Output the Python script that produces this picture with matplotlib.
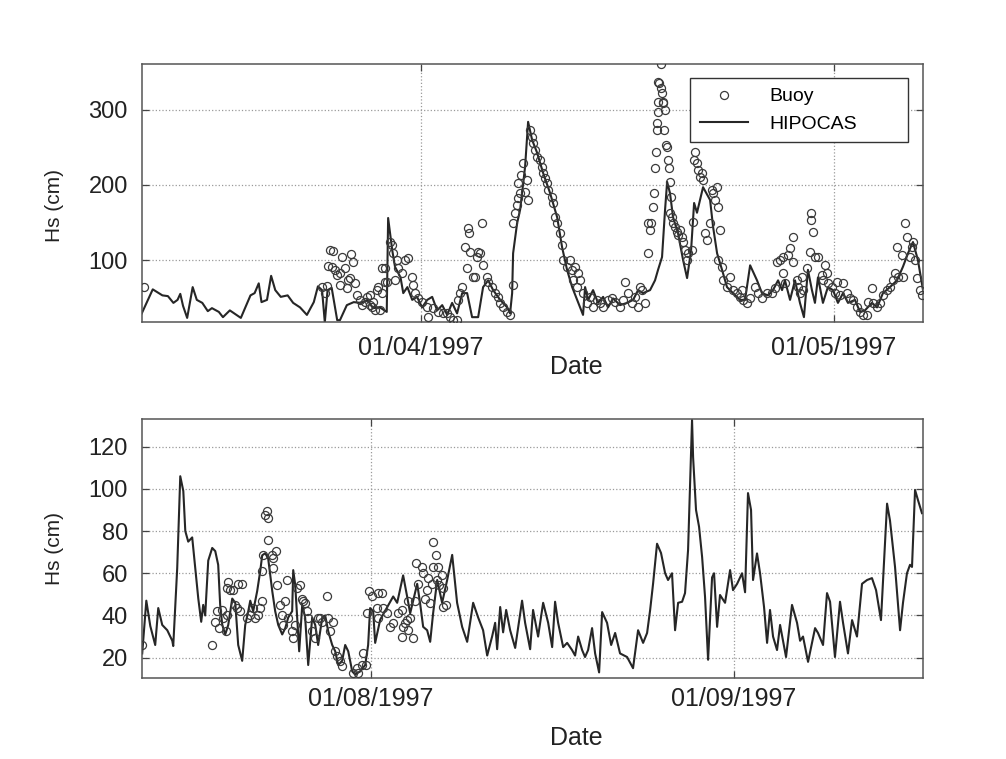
import numpy as np
import matplotlib
matplotlib.use("Agg")
import matplotlib.pyplot as plt
import matplotlib.dates as mdates
from datetime import datetime

# ---------------- data (days relative to the 1st of the reference month) ----------------
# Top panel: reference 01/04/1997
top_model_t = [-20.3, -19.5, -18.8, -18.4, -18.0, -17.7, -17.5, -17.3, -17.0, -16.6, -16.3, -15.9,
               -15.5, -15.2, -14.7, -14.4, -13.9, -13.1, -12.4, -12.1, -11.8, -11.6, -11.2, -10.9,
               -10.6, -10.2, -9.7, -9.3, -8.8, -8.3, -7.8, -7.5, -7.2, -7.0, -6.8, -6.5, -6.1, -5.9,
               -5.4, -4.9, -4.4, -3.9, -3.5, -3.0, -2.5, -2.4, -2.1, -1.9, -1.5, -1.3, -1.0, -0.65,
               -0.3, 0.07, 0.44, 0.8, 1.16, 1.53, 1.89, 2.25, 2.61, 2.98, 3.34, 3.70, 4.14, 4.50,
               4.87, 5.23, 5.74, 6.25, 6.46, 6.61, 6.68, 6.97, 7.19, 7.55, 7.77, 8.06, 8.42, 8.86,
               9.37, 9.88, 10.24, 10.60, 10.97, 11.33, 11.76, 11.91, 12.13, 12.49, 12.85, 13.22,
               13.58, 13.94, 14.45, 14.96, 15.40, 15.76, 16.12, 16.63, 16.99, 17.21, 17.50, 17.72,
               17.87, 18.08, 18.30, 18.66, 19.03, 19.32, 19.61, 19.83, 20.04, 20.26, 20.48, 20.99,
               21.21, 21.50, 21.86, 22.22, 22.66, 23.17, 23.53, 23.90, 24.40, 24.76, 25.20, 25.56,
               25.93, 26.22, 26.43, 26.80, 27.16, 27.52, 27.81, 28.10, 28.39, 28.61, 28.83, 29.19,
               29.55, 29.92, 30.28, 30.65, 31.01, 31.52, 31.88, 32.24, 32.75, 33.12, 33.55, 34.06,
               34.57, 35.00, 35.37, 35.73, 36.09, 36.46]
top_model_hs = [29, 61, 53, 52, 43, 47, 55, 39, 23, 64, 47, 43,
                32, 36, 31, 24, 33, 23, 53, 56, 69, 44, 47, 79,
                60, 51, 53, 43, 37, 27, 44, 65, 60, 17, 60, 63, 20, 20,
                40, 44, 43, 47, 36, 37, 31, 156, 113, 91, 77, 56, 64, 47,
                51, 37, 47, 51, 33, 40, 27, 43, 29, 56, 56, 24, 24, 64,
                73, 60, 47, 37, 29, 56, 109, 149, 167, 224, 284, 260, 243, 216,
                189, 157, 117, 87, 64, 47, 27, 64, 47, 60, 43, 51,
                37, 49, 40, 43, 47, 60, 56, 60, 73, 87, 104, 167,
                204, 189, 157, 136, 100, 76, 113, 176, 163, 180, 197, 180,
                144, 109, 87, 64, 56, 47, 47, 93, 73, 56, 53, 60,
                73, 60, 73, 47, 73, 43, 24, 87, 60, 43, 77, 43,
                64, 60, 43, 56, 43, 47, 31, 33, 43, 37, 56, 64,
                73, 91, 109, 124, 100, 60]

top_buoy_t = [-20.12, -7.19, -6.97, -6.83, -6.61, -6.39, -6.75, -6.46, -6.25, -6.10, -5.88, -5.74,
              -5.52, -5.30, -5.16, -5.08, -4.94, -5.90, -5.37, -4.79, -4.65, -4.43, -4.28, -4.07,
              -3.92, -3.70, -3.56, -3.49, -3.20, -3.12, -2.83, -2.61, -2.98, -3.34, -3.72, -2.47,
              -2.25, -2.11, -2.03, -1.74, -1.67, -1.38, -1.16, -0.94, -0.65, -0.58, -0.44, -2.63,
              -2.85, -1.89, -0.22, 0.07, 0.44, 0.51, 0.87, 1.23, 1.60, 1.89, 2.11, 2.32, 2.61, 2.69,
              2.83, 2.98, 3.20, 3.41, 3.49, 3.34, 3.56, 3.78, 3.92, 4.07, 4.14, 4.28, 4.43, 4.50,
              4.79, 4.87, 5.16, 5.37, 5.59, 5.74, 5.95, 6.25, 6.46, 6.68, 6.70, 6.83, 6.97, 7.04,
              7.19, 7.00, 7.22, 7.41, 7.70, 7.55, 7.77, 7.92, 8.06, 8.13, 8.28, 8.42, 8.64, 8.79,
              8.86, 9.00, 9.15, 9.22, 9.51, 9.59, 9.73, 9.88, 10.09, 10.24, 10.31, 10.60, 10.82,
              10.97, 11.04, 11.33, 11.18, 11.40, 11.55, 11.76, 12.06, 12.27, 12.49, 12.78, 13.00,
              13.22, 13.58, 13.87, 14.09, 14.45, 14.67, 14.81, 15.03, 15.32, 15.54, 15.76, 15.90,
              16.05, 16.27, 16.48, 16.63, 16.45, 16.70, 16.85, 16.92, 16.99, 17.07, 17.14, 17.17,
              17.21, 17.24, 17.20, 17.28, 17.43, 17.50, 17.57, 17.60, 17.72, 17.65, 17.43, 17.79,
              17.87, 17.94, 18.01, 18.08, 18.16, 18.10, 18.23, 18.30, 18.45, 18.59, 18.66, 18.81,
              18.95, 19.03, 19.17, 19.32, 19.39, 19.68, 19.75, 19.90, 19.80, 20.04, 20.12, 20.26,
              20.41, 20.48, 20.63, 20.77, 20.99, 21.14, 21.21, 21.35, 21.50, 21.57, 21.71, 21.60,
              21.86, 21.93, 22.22, 22.44, 22.66, 22.95, 23.17, 23.39, 23.68, 23.31, 23.90, 24.26,
              24.47, 24.76, 25.13, 25.49, 25.71, 25.85, 26.07, 26.29, 26.30, 26.43, 26.65, 26.80,
              27.02, 27.00, 27.31, 27.38, 27.52, 27.67, 27.74, 28.03, 28.32, 28.35, 28.47, 28.25,
              28.61, 28.83, 29.12, 29.34, 29.19, 29.48, 29.55, 29.85, 30.06, 30.21, 30.43, 30.65,
              30.94, 31.15, 31.37, 31.66, 31.88, 32.10, 32.39, 32.46, 32.75, 32.82, 33.12, 33.33,
              33.55, 33.84, 34.06, 34.28, 34.42, 34.64, 35.00, 34.60, 34.93, 35.15, 35.29, 35.51,
              35.66, 35.73, 35.88, 36.02, 36.24, 36.38]
top_buoy_hs = [64, 64, 56, 65, 113, 112, 92, 91, 87, 80, 83, 104,
               89, 73, 76, 108, 97, 67, 63, 69, 53, 47, 40, 44,
               51, 53, 37, 44, 60, 64, 89, 89, 33, 33, 40, 71,
               124, 120, 109, 100, 89, 83, 100, 103, 77, 67, 56, 71,
               56, 73, 49, 44, 37, 24, 36, 31, 29, 29, 24, 20, 20, 47,
               56, 64, 117, 143, 136, 89, 111, 77, 77, 104, 111, 109, 149, 93,
               77, 71, 64, 56, 51, 43, 37, 31, 27, 67, 149, 163, 173, 183,
               189, 203, 213, 229, 207, 191, 180, 273, 264, 256, 247, 237, 233, 224,
               216, 209, 203, 193, 184, 176, 157, 149, 136, 120, 100, 91, 100,
               87, 73, 64, 91, 83, 73, 56, 43, 51, 37, 47, 43,
               37, 47, 49, 44, 37, 47, 71, 56, 43, 51, 37, 64,
               60, 43, 109, 140, 149, 149, 171, 189, 223, 244, 273, 283,
               297, 311, 337, 336, 329, 323, 311, 309, 300, 273, 361, 253,
               251, 233, 223, 204, 184, 163, 157, 149, 144, 137, 133, 140,
               131, 124, 113, 100, 109, 113, 151, 244, 233, 229, 220, 211,
               216, 207, 136, 127, 149, 193, 189, 180, 197, 171, 140, 100,
               91, 73, 64, 77, 60, 56, 51, 47, 43, 60, 49, 64,
               56, 49, 56, 56, 63, 97, 100, 104, 83, 69, 107, 116,
               131, 97, 73, 64, 56, 77, 60, 89, 163, 153, 137, 111,
               104, 104, 80, 93, 73, 83, 69, 64, 56, 71, 53, 69,
               56, 49, 47, 37, 31, 27, 27, 44, 63, 43, 37, 43,
               53, 60, 64, 73, 83, 77, 77, 117, 107, 149, 131, 104,
               117, 124, 100, 76, 60, 53]

# Bottom panel: reference 01/08/1997
bot_model_t = [-19.56, -19.21, -18.87, -18.45, -18.19, -17.85, -17.42, -16.99, -16.91, -16.57,
               -16.31, -16.05, -15.88, -15.63, -15.29, -15.03, -14.77, -14.52, -14.35, -14.18,
               -13.92, -13.58, -13.32, -13.07, -12.90, -12.72, -12.47, -12.21, -11.87, -11.61,
               -11.36, -11.02, -10.76, -10.50, -10.33, -10.08, -9.74, -9.48, -9.31, -9.05, -8.80,
               -8.45, -8.20, -7.94, -7.60, -7.34, -7.09, -6.75, -6.66, -6.49, -6.32, -6.15, -5.89,
               -5.64, -5.38, -5.04, -4.78, -4.53, -4.18, -3.93, -3.67, -3.33, -3.07, -2.82, -2.48,
               -2.22, -1.96, -1.62, -1.37, -0.94, -0.51, -0.26, -0.09, 0.17, 0.34, 0.77, 1.37,
               1.88, 2.22, 2.73, 3.07, 3.33, 3.59, 3.93, 4.18, 4.44, 4.78, 5.04, 5.29, 5.64, 6.06,
               6.49, 6.92, 7.34, 7.77, 8.20, 8.71, 9.14, 9.56, 9.91, 10.33, 10.59, 10.76, 11.02,
               11.27, 11.53, 11.87, 12.30, 12.89, 13.15, 13.58, 13.83, 14.26, 14.69, 15.12, 15.46,
               15.71, 15.97, 16.40, 16.74, 17.16, 17.42, 17.68, 18.02, 18.27, 18.53, 18.87, 19.13,
               19.47, 19.73, 20.15, 20.50, 20.84, 21.26, 21.86, 22.37, 22.80, 23.23, 23.57, 23.83,
               24.08, 24.42, 24.76, 25.11, 25.36, 25.70, 25.96, 26.22, 26.56, 26.81, 27.07, 27.41,
               27.50, 27.75, 28.01, 28.27, 28.52, 28.78, 29.12, 29.29, 29.55, 29.80, 30.23, 30.66,
               30.91, 31.26, 31.68, 31.94, 32.19, 32.45, 32.62, 32.96, 33.22, 33.56, 33.82, 34.07,
               34.33, 34.67, 34.93, 35.44, 35.95, 36.38, 36.64, 36.89, 37.32, 37.92, 38.17, 38.60,
               38.94, 39.20, 39.62, 40.05, 40.31, 40.73, 41.08, 41.50, 41.93, 42.36, 42.78, 43.13,
               43.55, 44.07, 44.32, 44.75, 45.18, 45.43, 45.77, 46.03, 46.20, 46.46, 46.71, 47.05]
bot_model_hs = [22, 47, 35, 26, 43.5, 35.5, 33, 28, 25.5, 62.5,
                106, 99, 80, 75, 77, 62.5, 48, 37, 45, 40,
                66, 72, 70.5, 64, 45, 35.5, 31, 35.5, 48, 46,
                26, 18.5, 35.5, 42, 47, 42, 51.5, 61, 68.5, 69.5, 67,
                51.5, 42, 35.5, 31, 34, 39, 42, 61.5, 54.5, 39, 23, 45,
                39, 16.5, 39, 35.5, 26, 39, 40, 32.5, 26, 23, 16.5, 18.5,
                26, 23, 13.5, 12, 13.5, 16.5, 26, 43.5, 42, 27, 38, 44,
                49, 46, 59, 49, 41, 47, 55, 45.7, 34.6, 33, 27.5, 41, 56.8, 46,
                56.8, 68.7, 46, 34.6, 27.5, 46, 39, 33, 21, 30, 36.5, 24, 44,
                32, 42.6, 33, 24.6, 47, 36.5, 24, 42.6, 30, 46, 36.5, 25,
                46.5, 36.5, 25, 27, 23.6, 21, 30, 23.6, 20.3, 23.6, 34, 22,
                13, 41.6, 36.5, 26, 31.7, 22, 20.3, 15, 33, 27, 31.7, 42.6,
                55, 74, 69.6, 60, 56.8, 60, 33, 46, 46.5, 50.6, 71, 132.7,
                115, 90, 82, 67.7, 48.8, 19, 58, 60, 34.6, 49.7, 46, 61.5,
                52, 55, 60, 51, 98, 90, 56.8, 69.4, 60, 44, 27, 42.6,
                30, 23.6, 35.5, 20.3, 45, 36.5, 28, 30, 18, 34, 31.7, 26,
                50.6, 46.5, 20.3, 46.5, 36.5, 22, 37.8, 30, 55, 56.8, 57.7, 52,
                37.8, 93, 85, 63, 33, 46, 60, 64, 63, 99.5, 94.7, 88.5]

bot_buoy_t = [-19.56, -13.58, -13.32, -13.15, -12.98, -12.72, -12.64, -12.38, -12.30, -12.21,
              -12.28, -12.04, -11.78, -11.36, -11.02, -11.61, -11.44, -11.19, -10.59, -10.33,
              -10.08, -9.91, -9.65, -9.48, -9.31, -9.30, -9.22, -9.05, -8.88, -8.85, -8.80,
              -8.45, -8.37, -8.11, -8.40, -8.03, -7.77, -7.60, -7.51, -7.34, -7.17, -7.09,
              -6.75, -6.66, -6.49, -6.32, -6.06, -5.89, -5.81, -5.64, -5.47, -5.38, -5.04,
              -4.78, -4.53, -4.36, -4.18, -3.76, -3.67, -3.50, -3.25, -3.07, -2.90, -2.65,
              -2.48, -1.54, -1.20, -1.11, -0.77, -0.68, -0.43, -0.34, -0.17, 0.09, 0.51, 0.60,
              0.94, 0.62, 1.02, 1.37, 1.62, 1.88, 2.31, 2.65, 2.90, 3.16, 2.67, 2.73, 3.07,
              3.33, 3.18, 3.59, 3.76, 3.84, 4.01, 4.36, 4.44, 4.61, 4.78, 4.87, 5.04, 5.21,
              5.29, 5.30, 5.55, 5.72, 5.64, 5.81, 6.06, 6.15, 6.10, 6.40]
bot_buoy_hs = [26, 26, 37, 42, 34, 42.6, 38.8, 32.6, 40, 56,
               53, 52, 52, 55, 55, 45, 43.5, 42, 39, 40,
               43.5, 39, 40, 43.5, 47, 61, 68.6, 87.6, 89.5, 86, 75.7,
               68.6, 67, 70.4, 62.5, 54.5, 45, 40, 35.5, 47, 56.8, 39,
               32.6, 29.3, 35.5, 53, 54.5, 48, 47, 46, 42, 39, 32.6,
               29.3, 39, 39, 37, 49, 39, 32.6, 37, 23, 21, 18.5,
               16, 12.8, 15, 12.8, 16.5, 22, 16.5, 41, 51.5, 49, 43.5, 50.6,
               50.6, 39, 43.5, 41, 34.6, 36.3, 41, 30, 36.3, 33, 42.6, 34.6, 38,
               39, 47, 29.3, 47, 64.8, 55, 63, 60, 48, 52, 57.7, 46, 55,
               63, 74.8, 68.7, 63, 56.8, 54.5, 59, 53, 44, 45]

top_ref = datetime(1997, 4, 1)
bot_ref = datetime(1997, 8, 1)
top_ticks = [datetime(1997, 4, 1), datetime(1997, 5, 1)]
bot_ticks = [datetime(1997, 8, 1), datetime(1997, 9, 1)]
top_xlim = (-20.3, 36.46)
bot_xlim = (-19.6, 47.14)
top_ylim = (18, 361)
bot_ylim = (10.2, 133)
top_yticks = [100, 200, 300]
bot_yticks = [20, 40, 60, 80, 100, 120]

# ---------------- plotting ----------------
plt.rcParams['font.family'] = ['Liberation Sans', 'DejaVu Sans']

fig = plt.figure(figsize=(10.06, 7.59), dpi=100)
ax1 = fig.add_axes([0.1409, 0.5762, 0.7766, 0.3395])
ax2 = fig.add_axes([0.1409, 0.1063, 0.7766, 0.3413])

line_col = '#262626'
mk_col = '#3a3a3a'


def style(ax, ref, model_t, model_hs, buoy_t, buoy_hs, xlim, ylim, ticks, yticks, xpad):
    r = mdates.date2num(ref)
    ax.plot(r + np.array(buoy_t), buoy_hs, linestyle='none', marker='o', markersize=5.8,
            markerfacecolor='none', markeredgecolor=mk_col, markeredgewidth=0.9, label='Buoy',
            zorder=3)
    ax.plot(r + np.array(model_t), model_hs, color=line_col, linewidth=1.5, label='HIPOCAS',
            zorder=2)
    ax.set_xlim(r + xlim[0], r + xlim[1])
    ax.set_ylim(*ylim)
    ax.set_xticks(mdates.date2num(ticks))
    ax.xaxis.set_major_formatter(mdates.DateFormatter('%d/%m/%Y'))
    ax.set_yticks(yticks)
    ax.grid(True, linestyle=':', color='#9a9a9a', linewidth=0.9)
    ax.tick_params(direction='in', top=True, right=True, length=5, width=0.9,
                   color='#444444')
    ax.tick_params(axis='x', labelsize=18, pad=xpad, labelcolor='#222222')
    ax.tick_params(axis='y', labelsize=17, pad=10, labelcolor='#222222')
    for s in ax.spines.values():
        s.set_color('#555555')
        s.set_linewidth(1.1)
    ax.set_ylabel('Hs (cm)', fontsize=15, color='#222222')
    ax.set_xlabel('Date', fontsize=18, color='#222222')


style(ax1, top_ref, top_model_t, top_model_hs, top_buoy_t, top_buoy_hs,
      top_xlim, top_ylim, top_ticks, top_yticks, 10)
style(ax2, bot_ref, bot_model_t, bot_model_hs, bot_buoy_t, bot_buoy_hs,
      bot_xlim, bot_ylim, bot_ticks, bot_yticks, 6)

ax1.xaxis.set_label_coords(0.556, -0.13)
ax2.xaxis.set_label_coords(0.556, -0.185)
ax1.yaxis.set_label_coords(-0.1, 0.45)
ax2.yaxis.set_label_coords(-0.1, 0.5)

leg = ax1.legend(loc='upper left', bbox_to_anchor=(0.7018, 0.9457, 0.279, 0.0), mode='expand',
                 fontsize=14, frameon=True, fancybox=False, edgecolor='#333333',
                 handlelength=2.5, borderpad=0.5, labelspacing=0.5, handletextpad=1.1,
                 borderaxespad=0)
leg.get_frame().set_linewidth(1.0)
leg.get_frame().set_facecolor('white')
leg.get_frame().set_alpha(1)

fig.savefig('out.png', dpi=100)
